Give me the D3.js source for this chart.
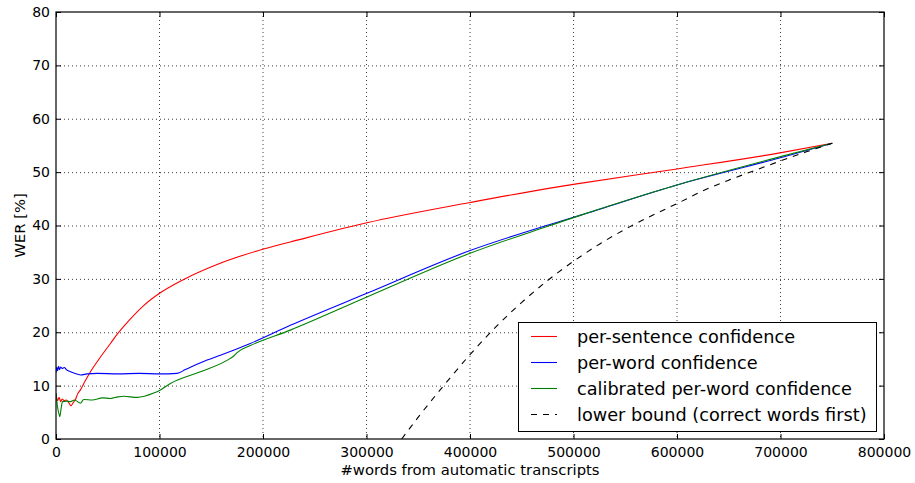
<!DOCTYPE html>
<html><head><meta charset="utf-8">
<script src="https://cdn.jsdelivr.net/npm/d3@7"></script>
<style>
body{margin:0;background:#fff;}
text{font-family:"DejaVu Sans",sans-serif;fill:#000;}
</style></head>
<body>
<svg id="c" width="915" height="483"></svg>
<script>
const xTicks = [0,100000,200000,300000,400000,500000,600000,700000,800000];
const yTicks = [0,10,20,30,40,50,60,70,80];
const seriesNames = ["per-sentence confidence","per-word confidence","calibrated per-word confidence","lower bound (correct words first)"];

const perSentenceX = [0,1500,3000,4500,6000,8000,10000,12000,14500,16500,18800,21000,23600,28000,33300,41300,52600,59000,70000,84700,100000,123400,155600,200500,236000,300400,400100,477300,506300,600000,699400,750000];
const perSentenceY = [8.5,7.2,7.8,7.0,7.5,7.2,7.3,6.9,6.2,6.8,7.4,8.5,9.2,10.8,12.6,14.9,17.9,19.6,22.1,25.0,27.3,29.9,32.7,35.6,37.4,40.5,44.3,47.0,47.9,50.6,53.6,55.4];

const perWordX = [0,800,1500,2500,3500,4500,6000,8000,10000,14000,18000,23600,30000,40000,60000,80000,100000,117000,125000,146000,158800,187700,226400,300400,400100,477300,506300,600000,700000,750000];
const perWordY = [12.4,13.5,12.8,13.6,13.0,13.5,13.2,13.4,13.0,12.6,12.3,12.0,12.2,12.3,12.2,12.3,12.2,12.3,13.0,14.8,15.7,17.9,21.3,27.3,35.3,40.2,41.9,47.6,52.7,55.4];

const calibratedX = [0,1500,3000,3700,5000,6300,10000,14000,18000,23600,26800,35000,45000,52600,60000,65400,78400,94400,100900,110500,139500,168400,172000,175000,187700,226400,300400,400100,477300,506300,600000,700000,750000];
const calibratedY = [8.6,6.0,4.6,4.2,5.8,7.0,7.1,7.0,7.3,6.7,7.4,7.3,7.7,7.6,7.9,8.0,7.8,8.6,9.2,10.4,12.6,15.1,15.6,16.2,17.5,20.4,26.6,34.8,40.0,41.9,47.6,52.9,55.4];

const lowerX = [334000,350000,375000,400000,425000,450000,475000,500000,525000,550000,575000,600000,625000,650000,675000,700000,725000,750000];
const lowerY = [0,4.1,10.1,15.8,21.0,25.6,29.7,33.3,36.5,39.3,41.8,44.1,46.5,48.5,50.3,52.1,53.8,55.4];

const colors = ["#ff0000","#0000ff","#008000","#000000"];

const svg = d3.select("#c");
const L=56, R=884, T=12, B=439;
const x = d3.scaleLinear().domain([0,800000]).range([L,R]);
const y = d3.scaleLinear().domain([0,80]).range([B,T]);

// grid
const g = svg.append("g");
g.selectAll(".gx").data(xTicks.slice(1,-1)).enter().append("line")
  .attr("x1",d=>x(d)).attr("x2",d=>x(d)).attr("y1",T).attr("y2",B)
  .attr("stroke","#000").attr("stroke-width",1).attr("stroke-dasharray","1,3").attr("opacity",0.75);
g.selectAll(".gy").data(yTicks.slice(1,-1)).enter().append("line")
  .attr("y1",d=>y(d)+0.5).attr("y2",d=>y(d)+0.5).attr("x1",L).attr("x2",R)
  .attr("stroke","#000").attr("stroke-width",1).attr("stroke-dasharray","1,3").attr("opacity",0.75);

// lines
svg.append("clipPath").attr("id","clp").append("rect").attr("x",L).attr("y",T).attr("width",R-L).attr("height",B-T);
const smoothGen = d3.line().x(d=>x(d[0])).y(d=>y(d[1])).curve(d3.curveMonotoneX);
const series = [
  {xs:perSentenceX, ys:perSentenceY},
  {xs:perWordX, ys:perWordY},
  {xs:calibratedX, ys:calibratedY},
  {xs:lowerX, ys:lowerY, dash:"6,6"}
];
series.forEach((s,i)=>{
  const pts = s.xs.map((v,k)=>[v,s.ys[k]]);
  svg.append("path").attr("d",smoothGen(pts)).attr("fill","none")
    .attr("stroke",colors[i]).attr("stroke-width",1.1)
    .attr("stroke-dasharray",s.dash||null).attr("clip-path","url(#clp)");
});

// axes (inward ticks, all four sides)
const ax = svg.append("g");
ax.append("g").attr("transform",`translate(0,${B})`)
  .call(d3.axisBottom(x).tickValues(xTicks).tickSizeInner(-5).tickSizeOuter(0).tickPadding(8).tickFormat(d3.format("d")));
ax.append("g").attr("transform",`translate(0,${T})`)
  .call(d3.axisTop(x).tickValues(xTicks).tickSizeInner(-5).tickSizeOuter(0).tickFormat(""));
ax.append("g").attr("transform",`translate(${L},0)`)
  .call(d3.axisLeft(y).tickValues(yTicks).tickSizeInner(-5).tickSizeOuter(0).tickPadding(6).tickFormat(d3.format("d")));
ax.append("g").attr("transform",`translate(${R},0)`)
  .call(d3.axisRight(y).tickValues(yTicks).tickSizeInner(-5).tickSizeOuter(0).tickFormat(""));
ax.selectAll(".domain").remove();
ax.selectAll(".tick line").attr("stroke","#000").attr("stroke-width",1);
ax.selectAll(".tick text").attr("font-size","14px").attr("font-family","DejaVu Sans").attr("fill","#000");
svg.append("rect").attr("x",L).attr("y",T).attr("width",R-L).attr("height",B-T)
  .attr("fill","none").attr("stroke","#000").attr("stroke-width",1.2);

// axis labels
svg.append("text").attr("x",(L+R)/2).attr("y",475).attr("text-anchor","middle")
  .attr("font-size","14.8px").text("#words from automatic transcripts");
svg.append("text").attr("transform",`translate(25,${(T+B)/2}) rotate(-90)`).attr("text-anchor","middle")
  .attr("font-size","14.8px").text("WER [%]");

// legend
const lg = svg.append("g");
lg.append("rect").attr("x",518.5).attr("y",322.5).attr("width",358).attr("height",109)
  .attr("fill","#fff").attr("stroke","#000").attr("stroke-width",1);
seriesNames.forEach((n,i)=>{
  const yy = 336.5 + i*26;
  lg.append("line").attr("x1",531).attr("x2",557).attr("y1",yy).attr("y2",yy)
    .attr("stroke",colors[i]).attr("stroke-width",1.1).attr("stroke-dasharray",i===3?"6,6":null);
  lg.append("text").attr("x",577).attr("y",yy+6).attr("font-size","17.7px").text(n);
});
</script>
</body></html>
